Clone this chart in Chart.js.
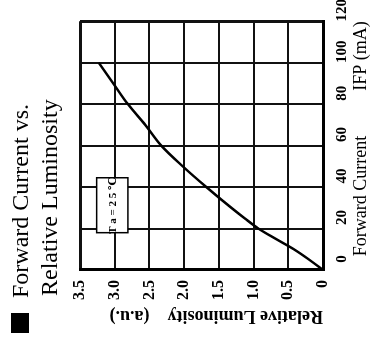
<!DOCTYPE html>
<html>
<head>
<meta charset="utf-8">
<script src="https://cdn.jsdelivr.net/npm/chart.js@4/dist/chart.umd.min.js"></script>
<style>
  html, body { margin: 0; padding: 0; background: #fff; overflow: hidden; }
  /* the chart is printed sideways, so draw it upright and turn it */
  #wrap { position: absolute; left: 0; top: 0; width: 338px; height: 373px;
          transform-origin: 0 0; transform: translate(0, 338px) rotate(-90deg); }
</style>
</head>
<body>
<div id="wrap"><canvas id="lumChart" width="338" height="373"></canvas></div>
<script>
const currents = [0, 5, 10, 15, 20, 25, 30, 40, 50, 60, 70, 80, 90, 100];
const luminosity = [0, 0.2, 0.42, 0.68, 0.93, 1.13, 1.32, 1.68, 2.02, 2.33, 2.56, 2.81, 3.02, 3.23];
const currentTicks = [0, 20, 40, 60, 80, 100, 120];
const lumTicks = [0, 0.5, 1.0, 1.5, 2.0, 2.5, 3.0, 3.5];
const titleLines = ['Forward Current vs.', 'Relative Luminosity'];
const noteText = 'T a = 2 5 ℃';

const SERIF = '"Liberation Serif", "DejaVu Serif", serif';

const decorPlugin = {
  id: 'decor',
  afterDraw(chart) {
    const ctx = chart.ctx;
    const xs = chart.scales.x, ys = chart.scales.y;
    ctx.save();
    // title block with the bullet square
    ctx.fillStyle = '#000';
    ctx.fillRect(5, 11, 20, 18);
    ctx.font = '24px ' + SERIF;
    ctx.textBaseline = 'middle';
    ctx.textAlign = 'left';
    ctx.fillText(titleLines[0], 40, 22);
    ctx.fillText(titleLines[1], 42, 51);
    // Ta = 25 C note box
    const l = xs.getPixelForValue(18), r = xs.getPixelForValue(44.5);
    const t = ys.getPixelForValue(3.26), b = ys.getPixelForValue(2.81);
    ctx.fillStyle = '#fff';
    ctx.fillRect(l, t, r - l, b - t);
    ctx.strokeStyle = '#000';
    ctx.lineWidth = 1.5;
    ctx.strokeRect(l, t, r - l, b - t);
    ctx.fillStyle = '#000';
    ctx.font = 'bold 11px ' + SERIF;
    ctx.textAlign = 'center';
    ctx.fillText(noteText, (l + r) / 2, (t + b) / 2 + 1);
    ctx.restore();
  }
};

const edgeWidth = (lo, hi) => c => (c.tick && (c.tick.value === lo || c.tick.value === hi)) ? 3 : 2;

new Chart(document.getElementById('lumChart'), {
  type: 'scatter',
  data: {
    datasets: [{
      data: currents.map((x, i) => ({ x: x, y: luminosity[i] })),
      showLine: true,
      borderColor: '#000',
      borderWidth: 2.5,
      pointRadius: 0,
      cubicInterpolationMode: 'monotone'
    }]
  },
  options: {
    responsive: false,
    animation: false,
    devicePixelRatio: 1,
    layout: { padding: { top: 80, right: 21, left: 0, bottom: 0 } },
    plugins: { legend: { display: false }, tooltip: { enabled: false } },
    scales: {
      x: {
        type: 'linear', min: 0, max: 120,
        afterBuildTicks: s => { s.ticks = currentTicks.map(v => ({ value: v })); },
        afterFit: s => { s.height = 50; },
        grid: { color: '#111', lineWidth: edgeWidth(0, 120), drawTicks: false },
        border: { color: '#000', width: 3 },
        ticks: { color: '#000', padding: 10, labelOffset: 11, maxRotation: 0,
                 font: { family: SERIF, size: 15, weight: 'bold' } },
        title: { display: true, text: 'Forward Current          IFP (mA)', color: '#000', align: 'end',
                 padding: { top: 0, bottom: 1 }, font: { family: SERIF, size: 18 } }
      },
      y: {
        type: 'linear', min: 0, max: 3.5,
        afterBuildTicks: s => { s.ticks = lumTicks.map(v => ({ value: v })); },
        afterFit: s => { s.width = 68; },
        grid: { color: '#111', lineWidth: edgeWidth(0, 3.5), drawTicks: false },
        border: { color: '#000', width: 3 },
        ticks: { color: '#000', padding: 10, font: { family: SERIF, size: 16, weight: 'bold' },
                 callback: v => v === 0 ? '0' : v.toFixed(1) },
        title: { display: true, text: 'Relative Luminosity    (a.u.)', color: '#000', align: 'start',
                 padding: { top: 12, bottom: 0 }, font: { family: SERIF, size: 18, weight: 'bold' } }
      }
    }
  },
  plugins: [decorPlugin]
});
</script>
</body>
</html>
